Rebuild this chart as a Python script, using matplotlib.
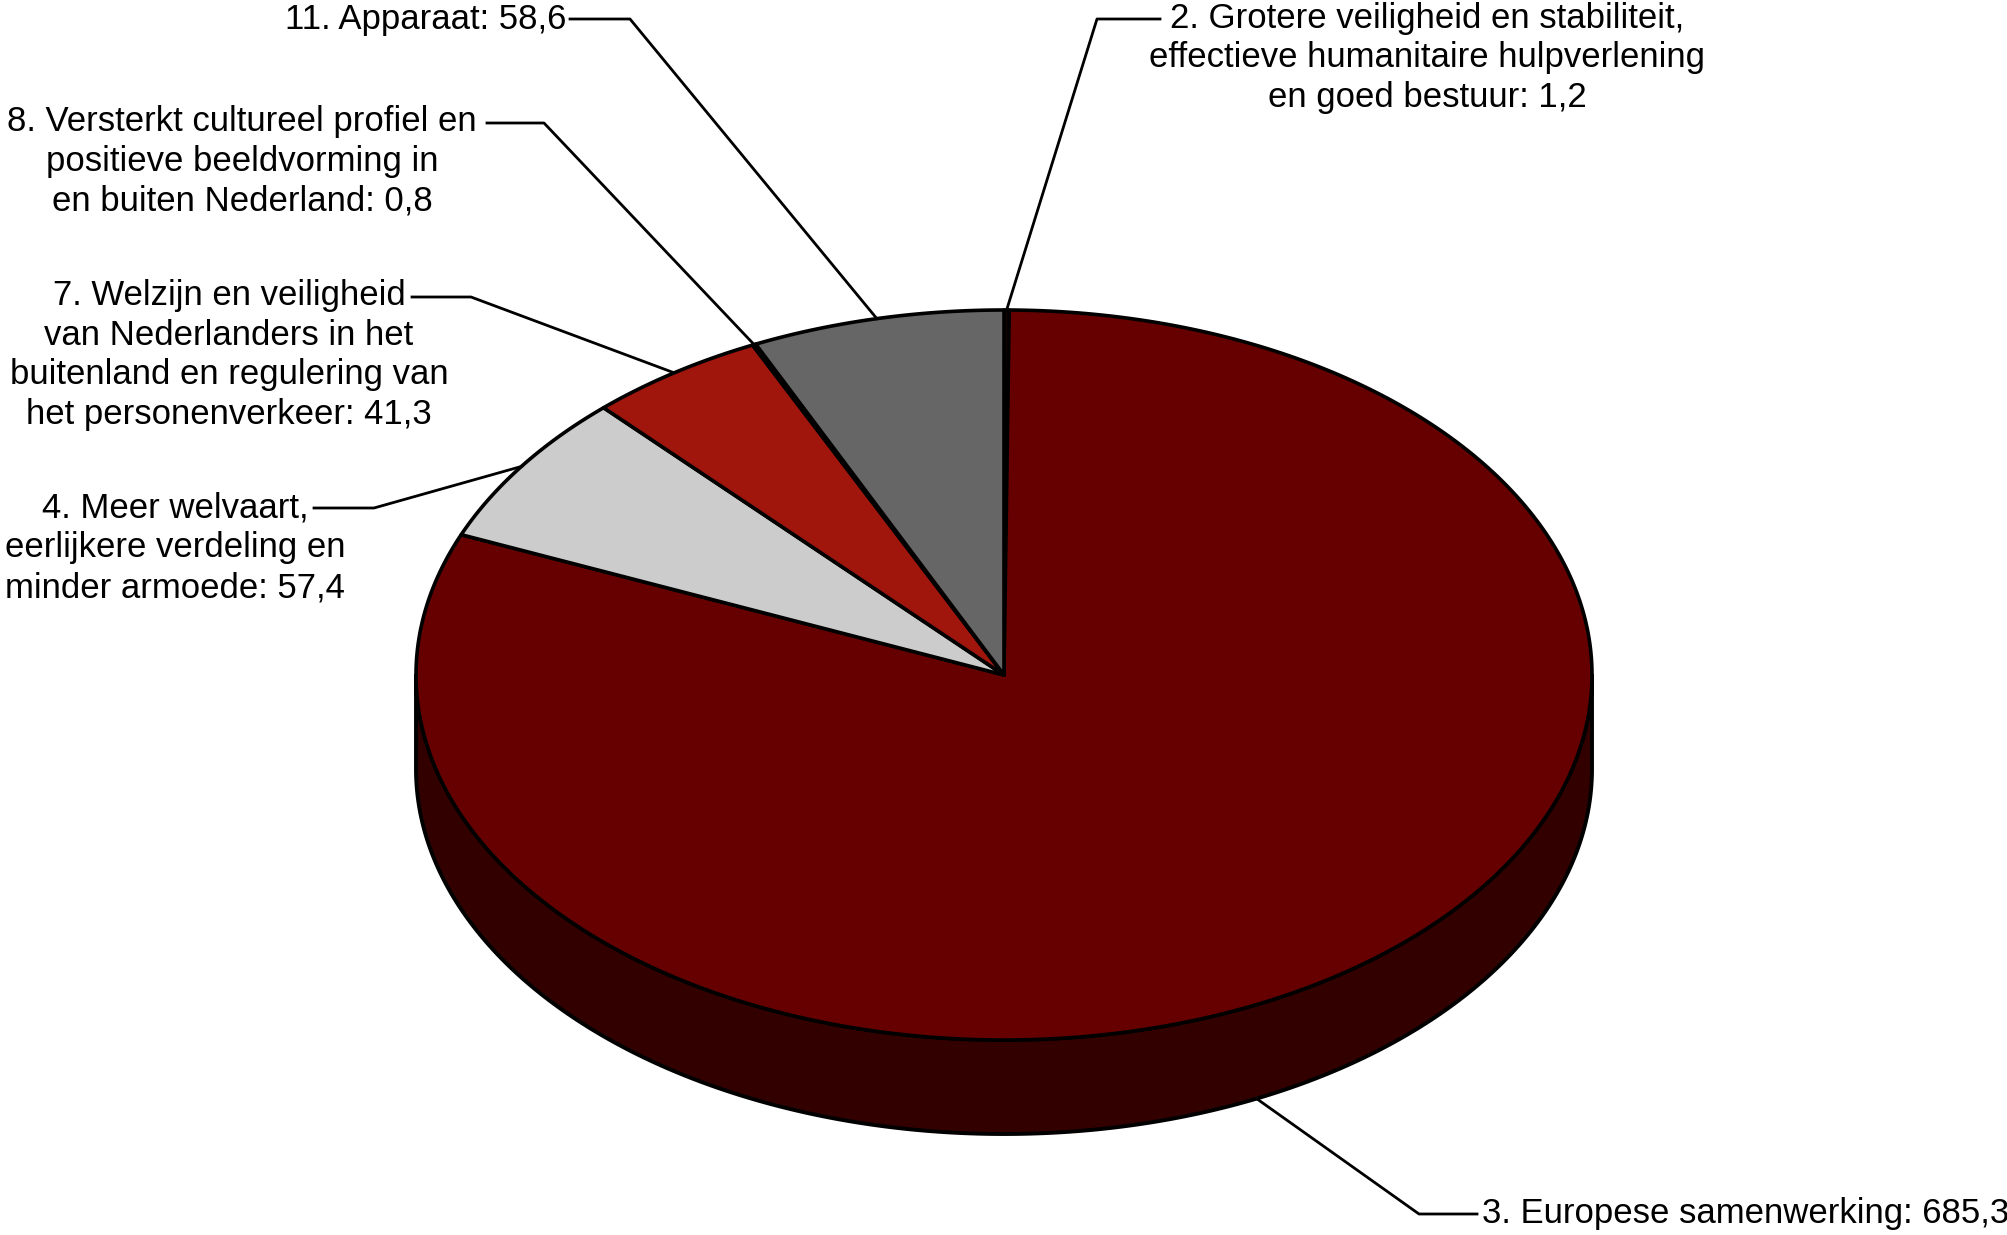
"""Begroting BZ: uitgaven per beleidsartikel, 3D-taartdiagram"""

import matplotlib
matplotlib.use("Agg")
import matplotlib.pyplot as plt
import numpy as np
from matplotlib.patches import Polygon

plt.rcParams["font.family"] = ["Liberation Sans", "DejaVu Sans"]

# data, met de klok mee vanaf 12 uur
labels = [
    "2. Grotere veiligheid en stabiliteit,\neffectieve humanitaire hulpverlening\nen goed bestuur",
    "3. Europese samenwerking",
    "4. Meer welvaart,\neerlijkere verdeling en\nminder armoede",
    "7. Welzijn en veiligheid\nvan Nederlanders in het\nbuitenland en regulering van\nhet personenverkeer",
    "8. Versterkt cultureel profiel en\npositieve beeldvorming in\nen buiten Nederland",
    "11. Apparaat",
]
values = [1.2, 685.3, 57.4, 41.3, 0.8, 58.6]
colors = ["#1a0000", "#660000", "#cccccc", "#a0160c", "#1a1a1a", "#666666"]
side_colors = ["#0d0000", "#330000", "#666666", "#500b06", "#0d0d0d", "#333333"]

# geometrie in pixels
W, H = 2008, 1235
CX, CY = 1004, 675
RX, RY = 588, 365
DEPTH = 94
FS = 25
LINE_H = 39.7

# label-opmaak: tekstpositie, uitlijning, beginpunt en knik van de verbindingslijn
label_pos = [(1427, 58), (1482, 1214), (175, 548), (229, 355), (242, 161), (566, 19)]
label_ha = ["center", "left", "center", "center", "center", "right"]
leader_start = [(1160, 19), (1477, 1214), (314, 508), (412, 297), (487, 123), (570, 19)]
leader_knee = [(1097, 19), (1419, 1214), (374, 508), (471, 297), (544, 123), (630, 19)]


def pt(t, dy=0.0):
    t = np.radians(t)
    return CX + RX * np.sin(t), CY - RY * np.cos(t) + dy


def arc(a0, a1, dy=0.0, n=None):
    n = n or max(int(abs(a1 - a0) * 2), 2)
    ts = np.linspace(a0, a1, n)
    xs, ys = pt(ts, dy)
    return np.column_stack([xs, ys])


fig = plt.figure(figsize=(W / 100, H / 100), dpi=100)
ax = fig.add_axes([0, 0, 1, 1])
ax.set_xlim(0, W)
ax.set_ylim(H, 0)
ax.axis("off")

vals = np.array(values)
bounds = np.concatenate([[0], np.cumsum(vals) / vals.sum() * 360])

# zijkant (alleen voorste helft zichtbaar)
for i in range(len(vals)):
    lo, hi = max(bounds[i], 90), min(bounds[i + 1], 270)
    if lo >= hi:
        continue
    top = arc(lo, hi)
    bot = arc(hi, lo, dy=DEPTH)
    ax.add_patch(Polygon(np.vstack([top, bot]), closed=True, fc=side_colors[i],
                         ec="black", lw=2.8, joinstyle="round", zorder=1))

# bovenvlak
for i in range(len(vals)):
    pts = np.vstack([[CX, CY], arc(bounds[i], bounds[i + 1])])
    ax.add_patch(Polygon(pts, closed=True, fc=colors[i], ec="black", lw=2.6,
                         joinstyle="round", zorder=2))

# labels met verbindingslijnen
for i, (lab, v) in enumerate(zip(labels, values)):
    mid = (bounds[i] + bounds[i + 1]) / 2
    if 90 < mid < 270:
        # lijn naar onderrand van de zijkant
        mid = mid + 8
        tip = pt(mid, DEPTH)
    else:
        tip = pt(mid)
    xs = [leader_start[i][0], leader_knee[i][0], tip[0]]
    ys = [leader_start[i][1], leader_knee[i][1], tip[1]]
    ax.plot(xs, ys, color="black", lw=2.0, zorder=3)

    text = lab + ": " + f"{v:.1f}".replace(".", ",")
    lines = text.split("\n")
    x0, yc = label_pos[i]
    for k, line in enumerate(lines):
        y = yc + (k - (len(lines) - 1) / 2) * LINE_H
        ax.text(x0, y, line, ha=label_ha[i], va="center", fontsize=FS, color="black")

fig.savefig("out.png", dpi=100)
